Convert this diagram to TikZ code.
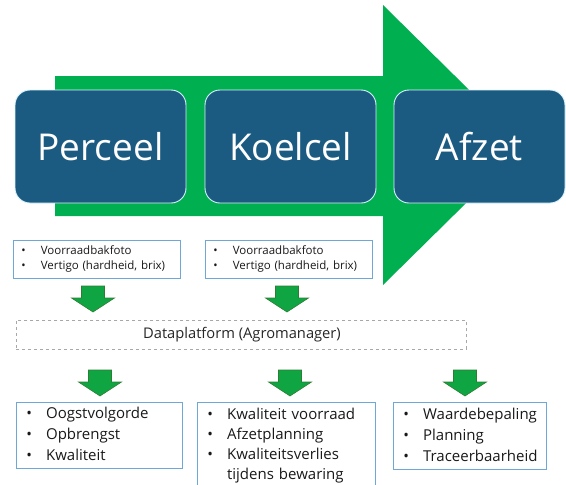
\documentclass[tikz,border=0pt]{standalone}
\usepackage{fontspec}
\setmainfont{Open Sans}
\usetikzlibrary{positioning}
\definecolor{bigblue}{HTML}{1B5B82}
\definecolor{biggreen}{HTML}{00B050}
\definecolor{smgreen}{HTML}{10A543}
\definecolor{smgreenline}{HTML}{2E7D32}
\definecolor{lblue}{HTML}{6FA8D6}
\definecolor{dgrey}{HTML}{A8A8A8}
\tikzset{
  stagebox/.style={draw=white!85!cyan, line width=0.9pt, fill=bigblue, rounded corners=15pt,
    minimum width=171pt, minimum height=113pt, text=white, inner sep=0pt,
    font=\fontsize{37}{42}\selectfont},
  infobox/.style={draw=lblue, line width=0.9pt, anchor=north west, align=left, inner ysep=0pt, text=black!90},
  upbox/.style={infobox, font=\fontsize{11.5}{15}\selectfont, inner xsep=8pt},
  lowbox/.style={infobox, font=\fontsize{15}{21}\selectfont, inner xsep=10pt},
  dashbox/.style={draw=dgrey, dashed, line width=0.8pt, anchor=north west,
    minimum width=450pt, minimum height=29pt, inner sep=0pt},
  downarr/.pic={\draw[fill=smgreen, draw=smgreenline, line width=0.6pt]
    (-11.5,0) -- (11.5,0) -- (11.5,12) -- (21.5,12) -- (0,26) -- (-21.5,12) -- (-11.5,12) -- cycle;}
}
\newcommand{\blist}[2]{\begin{tabular}{@{}l@{\hspace{#1}}l@{}}#2\end{tabular}}
\begin{document}
\begin{tikzpicture}[x=1pt,y=-1pt]
\useasboundingbox (0,0) rectangle (566,485);
\begin{scope}
\clip (0,0) rectangle (566,485);
% big process arrow
\fill[biggreen] (55,76) -- (383,76) -- (383,5) -- (525,145) -- (383,285) -- (383,216) -- (55,216) -- cycle;
% stages
\node[stagebox] (perceel) at (100.5,146.5) {Perceel};
\node[stagebox] (koelcel) at (290.5,146.5) {Koelcel};
\node[stagebox] (afzet) at (479.5,146.5) {Afzet};
% upper info boxes
\node[upbox, minimum width=167pt, minimum height=38pt, text width=151pt] (in1) at (13,240)
  {\blist{15pt}{\textbullet & Voorraadbakfoto\\ \textbullet & Vertigo (hardheid, brix)}};
\node[upbox, minimum width=167pt, minimum height=38pt, text width=151pt] (in2) at (205,240)
  {\blist{15pt}{\textbullet & Voorraadbakfoto\\ \textbullet & Vertigo (hardheid, brix)}};
% arrows to platform
\pic at (93,286) {downarr};
\pic at (287,286) {downarr};
% platform
\node[dashbox] (platform) at (16,320) {};
\node[font=\fontsize{14.7}{18}\selectfont, text=black!85] (ptext) at (242,334.5) {Dataplatform (Agromanager)};
% arrows from platform
\pic at (100,370) {downarr};
\pic at (290,370) {downarr};
\pic at (465,370) {downarr};
% lower info boxes
\node[lowbox, minimum width=166pt, minimum height=66pt, text width=146pt] (out1) at (16,402)
  {\blist{14pt}{\textbullet & Oogstvolgorde\\ \textbullet & Opbrengst\\ \textbullet & Kwaliteit}};
\node[lowbox, minimum width=178pt, minimum height=86pt, text width=158pt,
  font=\fontsize{15}{20.3}\selectfont] (out2) at (197,402)
  {\blist{14pt}{\textbullet & Kwaliteit voorraad\\ \textbullet & Afzetplanning\\ \textbullet & Kwaliteitsverlies\\ & tijdens bewaring}};
\node[lowbox, minimum width=153pt, minimum height=67pt, text width=133pt] (out3) at (393,402)
  {\blist{14pt}{\textbullet & Waardebepaling\\ \textbullet & Planning\\ \textbullet & Traceerbaarheid}};
\end{scope}
\end{tikzpicture}
\end{document}
